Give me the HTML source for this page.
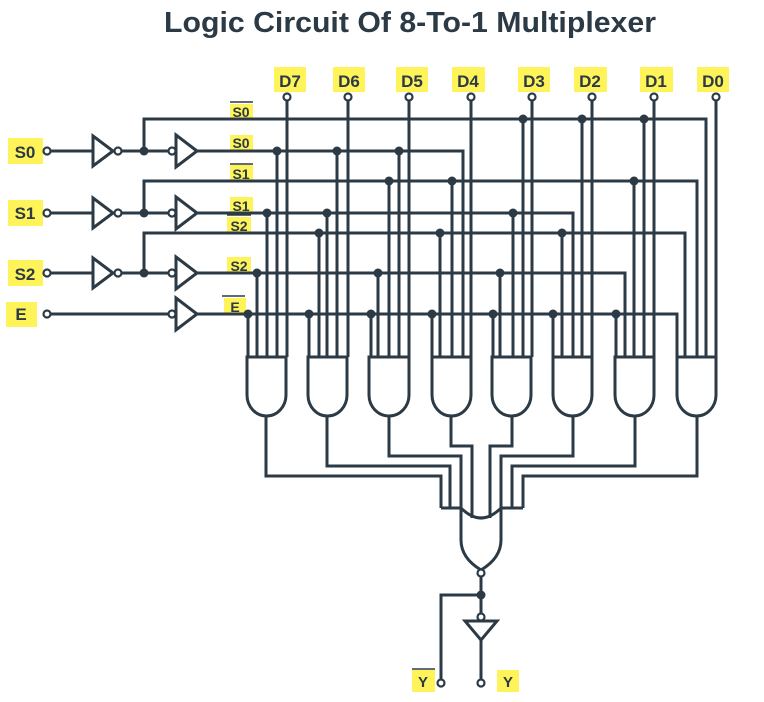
<!DOCTYPE html>
<html><head><meta charset="utf-8"><style>
html,body{margin:0;padding:0;background:#fff;}
svg{display:block;}
text{font-family:"Liberation Sans",sans-serif;font-weight:bold;fill:#2b3a44;}
</style></head><body>
<svg width="764" height="702" viewBox="0 0 764 702" xmlns="http://www.w3.org/2000/svg">
<text x="410" y="32" font-size="29" text-anchor="middle" textLength="492" lengthAdjust="spacingAndGlyphs">Logic Circuit Of 8-To-1 Multiplexer</text>
<g fill="#fff35a">
<rect x="274" y="67" width="32" height="25"/><rect x="333" y="67" width="32" height="25"/><rect x="396" y="67" width="32" height="25"/><rect x="452" y="67" width="33" height="25"/><rect x="518" y="67" width="32" height="25"/><rect x="574" y="67" width="33" height="25"/><rect x="640" y="67" width="33" height="25"/><rect x="697" y="67" width="32" height="25"/>
<rect x="8" y="138" width="35" height="26"/><rect x="8" y="200" width="35" height="26"/><rect x="8" y="260" width="35" height="26"/><rect x="6" y="302" width="31" height="25"/>
<rect x="230" y="104" width="23" height="14"/><rect x="230" y="135" width="23" height="15"/><rect x="230" y="165" width="23" height="15"/><rect x="230" y="197" width="23" height="15"/><rect x="227" y="217" width="24" height="15"/><rect x="227" y="257" width="24" height="15"/><rect x="224" y="298" width="22" height="15"/>
<rect x="412" y="670" width="23" height="22"/><rect x="497" y="670" width="22" height="22"/>
</g>
<g font-size="17" text-anchor="middle">
<text x="290" y="87">D7</text><text x="349" y="87">D6</text><text x="412" y="87">D5</text><text x="468" y="87">D4</text><text x="534" y="87">D3</text><text x="590" y="87">D2</text><text x="656" y="87">D1</text><text x="713" y="87">D0</text>
<text x="25" y="158">S0</text><text x="25" y="219">S1</text><text x="25" y="280">S2</text><text x="21" y="320">E</text>
</g>
<g font-size="14" text-anchor="middle">
<text x="241" y="117">S0</text><text x="241" y="148">S0</text><text x="241" y="179">S1</text><text x="241" y="211">S1</text><text x="239" y="231">S2</text><text x="239" y="271">S2</text><text x="235" y="312">E</text>
<text x="423" y="687" font-size="15">Y</text><text x="508" y="687" font-size="15">Y</text>
</g>
<g stroke="#2b3a44" stroke-width="1.5">
<line x1="230" y1="102" x2="253" y2="102"/><line x1="230" y1="164" x2="253" y2="164"/><line x1="227" y1="215" x2="251" y2="215"/><line x1="222" y1="296" x2="245" y2="296"/><line x1="412" y1="669" x2="435" y2="669"/>
</g>
<g stroke="#2b3a44" stroke-width="3" fill="none">
<path d="M51 151H93M122 151H168M51 213H93M122 213H168M51 273H93M122 273H168M51 314H168"/>
<path d="M144 151V119H706V357M144 213V181H697V357M144 273V233H685V357"/>
<path d="M196 151H463V357M196 213H573V357M196 273H625V357M196 314H677V357"/>
<path d="M93 136L113 151L93 166ZM93 198L113 213L93 228ZM93 258L113 273L93 288Z"/>
<path d="M176 135L197 151L176 167ZM176 197L197 213L176 229ZM176 257L197 273L176 289ZM176 298L197 314L176 330Z"/>
<path d="M248 314V357M257 273V357M267 213V357M277 151V357M287 101V357"/>
<path d="M309 314V357M319 233V357M327 213V357M337 151V357M348 101V357"/>
<path d="M371 314V357M378 273V357M389 181V357M399 151V357M409 101V357"/>
<path d="M432 314V357M440 233V357M452 181V357M471 101V357"/>
<path d="M493 314V357M500 273V357M513 213V357M523 119V357M532 101V357"/>
<path d="M553 314V357M562 233V357M582 119V357M592 101V357"/>
<path d="M616 314V357M634 181V357M644 119V357M654 101V357"/>
<path d="M716 101V357"/>
<path d="M247 357H286V395A19.5 21 0 0 1 247 395Z"/>
<path d="M308 357H347V395A19.5 21 0 0 1 308 395Z"/>
<path d="M369 357H409V395A20 21 0 0 1 369 395Z"/>
<path d="M432 357H471V395A19.5 21 0 0 1 432 395Z"/>
<path d="M492 357H531V395A19.5 21 0 0 1 492 395Z"/>
<path d="M553 357H592V395A19.5 21 0 0 1 553 395Z"/>
<path d="M615 357H654V395A19.5 21 0 0 1 615 395Z"/>
<path d="M677 357H716V395A19.5 21 0 0 1 677 395Z"/>
<path d="M266 416V476H441V508M327 416V466H450V508M389 416V456H461V508"/>
<path d="M451 416V446H472V518M512 416V446H490V518"/>
<path d="M573 416V456H501V508M635 416V466H512V508M697 416V476H523V508"/>
<path d="M441 508H461M501 508H523"/>
<path d="M461 508Q481 528 501 508V540Q501 558 481 570Q461 558 461 540Z"/>
<path d="M481 577V613M481 595H441V680M481 640V680"/>
<path d="M465 621H497L481 640Z"/>
</g>
<g stroke="#2b3a44" stroke-width="2.2" fill="#fff">
<circle cx="287" cy="97" r="3.5"/><circle cx="348" cy="97" r="3.5"/><circle cx="409" cy="97" r="3.5"/><circle cx="471" cy="97" r="3.5"/><circle cx="532" cy="97" r="3.5"/><circle cx="592" cy="97" r="3.5"/><circle cx="654" cy="97" r="3.5"/><circle cx="716" cy="97" r="3.5"/>
<circle cx="47" cy="151" r="3.5"/><circle cx="47" cy="213" r="3.5"/><circle cx="47" cy="273" r="3.5"/><circle cx="47" cy="314" r="3.5"/>
<circle cx="118" cy="151" r="3.5"/><circle cx="118" cy="213" r="3.5"/><circle cx="118" cy="273" r="3.5"/>
<circle cx="172" cy="151" r="3.5"/><circle cx="172" cy="213" r="3.5"/><circle cx="172" cy="273" r="3.5"/><circle cx="172" cy="314" r="3.5"/>
<circle cx="481" cy="573" r="3.5"/><circle cx="481" cy="617" r="3.5"/><circle cx="441" cy="683" r="3.5"/><circle cx="481" cy="683" r="3.5"/>
</g>
<g fill="#2b3a44">
<circle cx="144" cy="151" r="4.5"/><circle cx="144" cy="213" r="4.5"/><circle cx="144" cy="273" r="4.5"/>
<circle cx="248" cy="314" r="4.5"/><circle cx="257" cy="273" r="4.5"/><circle cx="267" cy="213" r="4.5"/><circle cx="277" cy="151" r="4.5"/>
<circle cx="309" cy="314" r="4.5"/><circle cx="319" cy="233" r="4.5"/><circle cx="327" cy="213" r="4.5"/><circle cx="337" cy="151" r="4.5"/>
<circle cx="371" cy="314" r="4.5"/><circle cx="378" cy="273" r="4.5"/><circle cx="389" cy="181" r="4.5"/><circle cx="399" cy="151" r="4.5"/>
<circle cx="432" cy="314" r="4.5"/><circle cx="440" cy="233" r="4.5"/><circle cx="452" cy="181" r="4.5"/>
<circle cx="493" cy="314" r="4.5"/><circle cx="500" cy="273" r="4.5"/><circle cx="513" cy="213" r="4.5"/><circle cx="523" cy="119" r="4.5"/>
<circle cx="553" cy="314" r="4.5"/><circle cx="562" cy="233" r="4.5"/><circle cx="582" cy="119" r="4.5"/>
<circle cx="616" cy="314" r="4.5"/><circle cx="634" cy="181" r="4.5"/><circle cx="644" cy="119" r="4.5"/>
<circle cx="481" cy="595" r="4.5"/>
</g>
</svg>
</body></html>
